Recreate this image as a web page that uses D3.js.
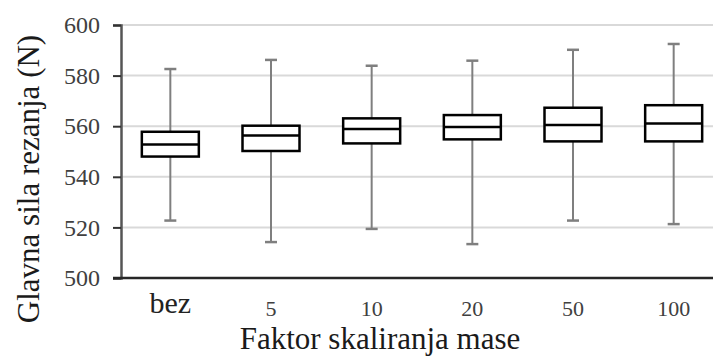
<!DOCTYPE html>
<html>
<head>
<meta charset="utf-8">
<script src="https://cdn.jsdelivr.net/npm/d3@7"></script>
<style>
  body { margin: 0; background: #fff; }
  svg { display: block; }
  text { font-family: "Liberation Serif", "Times New Roman", serif; }
</style>
</head>
<body>
<script>
// box plot data
var categories = ["bez", "5", "10", "20", "50", "100"];
var whiskerLow = [522.7, 514.2, 519.4, 513.4, 522.7, 521.3];
var q1         = [548.0, 550.2, 553.2, 554.8, 554.0, 554.0];
var median     = [552.8, 556.3, 558.9, 559.7, 560.5, 561.1];
var q3         = [557.8, 560.2, 563.1, 564.4, 567.3, 568.3];
var whiskerHigh = [582.6, 586.2, 583.9, 585.9, 590.2, 592.5];
var yTicks = [500, 520, 540, 560, 580, 600];

var serif = "'Liberation Serif', 'Times New Roman', serif";

var width = 713,
	height = 356;

var svg = d3.select("body").append("svg")
	.attr("width", width)
	.attr("height", height);

var x = d3.scaleBand()
	.domain(categories)
	.range([120, 724]);

var y = d3.scaleLinear()
	.domain([500, 600])
	.range([278, 25]);

var boxes = categories.map(function(c, i) {
	return {cat: c, lo: whiskerLow[i], q1: q1[i], med: median[i], q3: q3[i], hi: whiskerHigh[i]};
});

// gridlines
svg.append("g")
	.selectAll("line")
	.data(yTicks.slice(1))
	.enter().append("line")
	.attr("x1", 121)
	.attr("x2", width)
	.attr("y1", function(d) { return y(d); })
	.attr("y2", function(d) { return y(d); })
	.attr("stroke", "#d9d9d9")
	.attr("stroke-width", 2);

// y axis
var yAxis = svg.append("g")
	.attr("transform", "translate(121,0)")
	.call(d3.axisLeft(y).tickValues(yTicks).tickSize(8).tickPadding(13));
yAxis.attr("font-family", null).attr("font-size", null);
yAxis.select(".domain").attr("stroke", "#555").attr("stroke-width", 2.5);
yAxis.selectAll(".tick line").attr("stroke", "#333").attr("stroke-width", 2);
yAxis.selectAll(".tick text")
	.attr("fill", "#404040")
	.style("font-size", "24px")
	.style("font-family", serif);

// whiskers
var g = svg.append("g");
var bw = 57, cap = 12;

g.selectAll(".whisker")
	.data(boxes)
	.enter().append("line")
	.attr("class", "whisker")
	.attr("x1", function(d) { return x(d.cat) + x.bandwidth() / 2; })
	.attr("x2", function(d) { return x(d.cat) + x.bandwidth() / 2; })
	.attr("y1", function(d) { return y(d.lo); })
	.attr("y2", function(d) { return y(d.hi); })
	.attr("stroke", "#7f7f7f")
	.attr("stroke-width", 2);

["lo", "hi"].forEach(function(k) {
	g.selectAll(".cap-" + k)
		.data(boxes)
		.enter().append("line")
		.attr("class", "cap-" + k)
		.attr("x1", function(d) { return x(d.cat) + x.bandwidth() / 2 - cap / 2; })
		.attr("x2", function(d) { return x(d.cat) + x.bandwidth() / 2 + cap / 2; })
		.attr("y1", function(d) { return y(d[k]); })
		.attr("y2", function(d) { return y(d[k]); })
		.attr("stroke", "#7f7f7f")
		.attr("stroke-width", 2.5);
});

// boxes
g.selectAll(".box")
	.data(boxes)
	.enter().append("rect")
	.attr("class", "box")
	.attr("x", function(d) { return x(d.cat) + x.bandwidth() / 2 - bw / 2; })
	.attr("y", function(d) { return y(d.q3); })
	.attr("width", bw)
	.attr("height", function(d) { return y(d.q1) - y(d.q3); })
	.attr("fill", "#fff")
	.attr("stroke", "#000")
	.attr("stroke-width", 2.5);

g.selectAll(".median")
	.data(boxes)
	.enter().append("line")
	.attr("class", "median")
	.attr("x1", function(d) { return x(d.cat) + x.bandwidth() / 2 - bw / 2; })
	.attr("x2", function(d) { return x(d.cat) + x.bandwidth() / 2 + bw / 2; })
	.attr("y1", function(d) { return y(d.med); })
	.attr("y2", function(d) { return y(d.med); })
	.attr("stroke", "#000")
	.attr("stroke-width", 2.5);

// x axis
var xAxis = svg.append("g")
	.attr("transform", "translate(0,278)")
	.call(d3.axisBottom(x).tickSize(0).tickPadding(0));
xAxis.attr("font-family", null).attr("font-size", null);
xAxis.select(".domain").remove();
svg.append("line")
	.attr("x1", 113).attr("x2", width)
	.attr("y1", 278).attr("y2", 278)
	.attr("stroke", "#262626").attr("stroke-width", 2.5);
xAxis.selectAll(".tick text")
	.attr("dy", null)
	.attr("y", function(d) { return d === "bez" ? 35 : 38; })
	.style("font-family", serif)
	.style("font-size", function(d) { return d === "bez" ? "30px" : "22px"; })
	.style("fill", function(d) { return d === "bez" ? "#222" : "#404040"; });

// axis titles
svg.append("text")
	.attr("x", 380)
	.attr("y", 349)
	.attr("text-anchor", "middle")
	.attr("fill", "#1a1a1a")
	.style("font-family", serif)
	.style("font-size", "31px")
	.text("Faktor skaliranja mase");

svg.append("text")
	.attr("transform", "translate(39,179) rotate(-90)")
	.attr("text-anchor", "middle")
	.attr("fill", "#1a1a1a")
	.style("font-family", serif)
	.style("font-size", "31px")
	.text("Glavna sila rezanja (N)");
</script>
</body>
</html>
